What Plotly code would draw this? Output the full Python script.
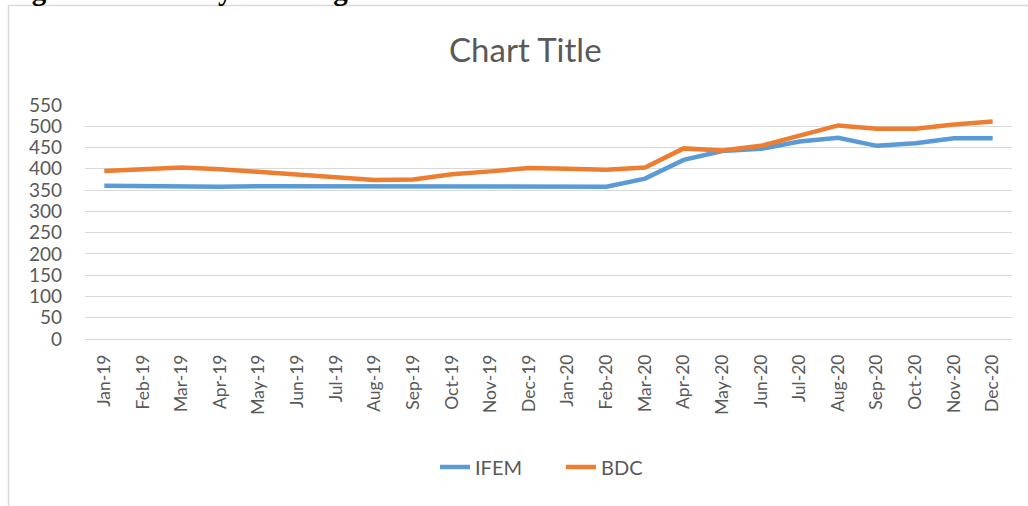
import plotly.graph_objects as go

months = ["Jan-19", "Feb-19", "Mar-19", "Apr-19", "May-19", "Jun-19", "Jul-19", "Aug-19",
          "Sep-19", "Oct-19", "Nov-19", "Dec-19", "Jan-20", "Feb-20", "Mar-20", "Apr-20",
          "May-20", "Jun-20", "Jul-20", "Aug-20", "Sep-20", "Oct-20", "Nov-20", "Dec-20"]
ifem = [360, 359, 358, 358, 359, 359, 358, 358, 358, 358, 358, 359,
        359, 358, 377, 421, 442, 447, 464, 473, 454, 460, 472, 472]
bdc = [395, 399, 403, 399, 393, 388, 382, 374, 375, 387, 394, 402,
       400, 398, 403, 448, 443, 454, 478, 502, 494, 494, 504, 511]
y_ticks = list(range(0, 551, 50))

FONT = "Lato"
GRAY = "#595959"

fig = go.Figure()
fig.add_trace(go.Scatter(x=months, y=ifem, mode="lines", name="IFEM",
                         line=dict(color="#5B9BD5", width=4.5)))
fig.add_trace(go.Scatter(x=months, y=bdc, mode="lines", name="BDC",
                         line=dict(color="#ED7D31", width=4.5)))

fig.update_layout(
    width=1028, height=506,
    margin=dict(l=85, r=16, t=105, b=167, autoexpand=False),
    paper_bgcolor="white", plot_bgcolor="white",
    font=dict(family=FONT, color=GRAY, size=19),
    title=dict(text="Chart Title", x=0.511, xanchor="center", yref="container",
               y=1 - 50 / 506, yanchor="middle",
               font=dict(family=FONT, size=33, color=GRAY)),
    showlegend=True,
    legend=dict(orientation="h", xref="container", x=435 / 1028, xanchor="left",
                yref="container", y=1 - 467 / 506, yanchor="middle",
                font=dict(family=FONT, size=20, color=GRAY), entrywidth=81,
                bgcolor="rgba(0,0,0,0)"),
    xaxis=dict(type="category", range=[-0.5, 23.5], tickangle=-90, showgrid=False,
               showline=False, ticks="", automargin=False,
               tickfont=dict(family=FONT, size=17.5, color=GRAY), ticklabelstandoff=11),
    yaxis=dict(range=[0, 550], tickvals=y_ticks, showgrid=True, gridcolor="#d9d9d9",
               gridwidth=1, zeroline=True, zerolinecolor="#d9d9d9", zerolinewidth=1,
               ticks="", automargin=False,
               tickfont=dict(family=FONT, size=19, color=GRAY), ticklabelstandoff=22),
)

fig.add_shape(type="rect", xref="paper", yref="paper",
              x0=-0.0825, x1=1.05, y0=-0.8, y1=1.4255,
              line=dict(color="#d9d9d9", width=1.5), fillcolor="rgba(0,0,0,0)", layer="below")

fig.add_annotation(text="<b>Figure 3: Monthly Exchange Rate of IFEM and BDC</b>",
                   xref="paper", yref="paper", x=(4 - 85) / 927, xanchor="left",
                   y=1.492, yanchor="middle", showarrow=False,
                   font=dict(family="Liberation Serif", size=29, color="black"))

fig.write_html("out.html", config={"displayModeBar": False},
               post_script="document.body.style.margin='0';")
